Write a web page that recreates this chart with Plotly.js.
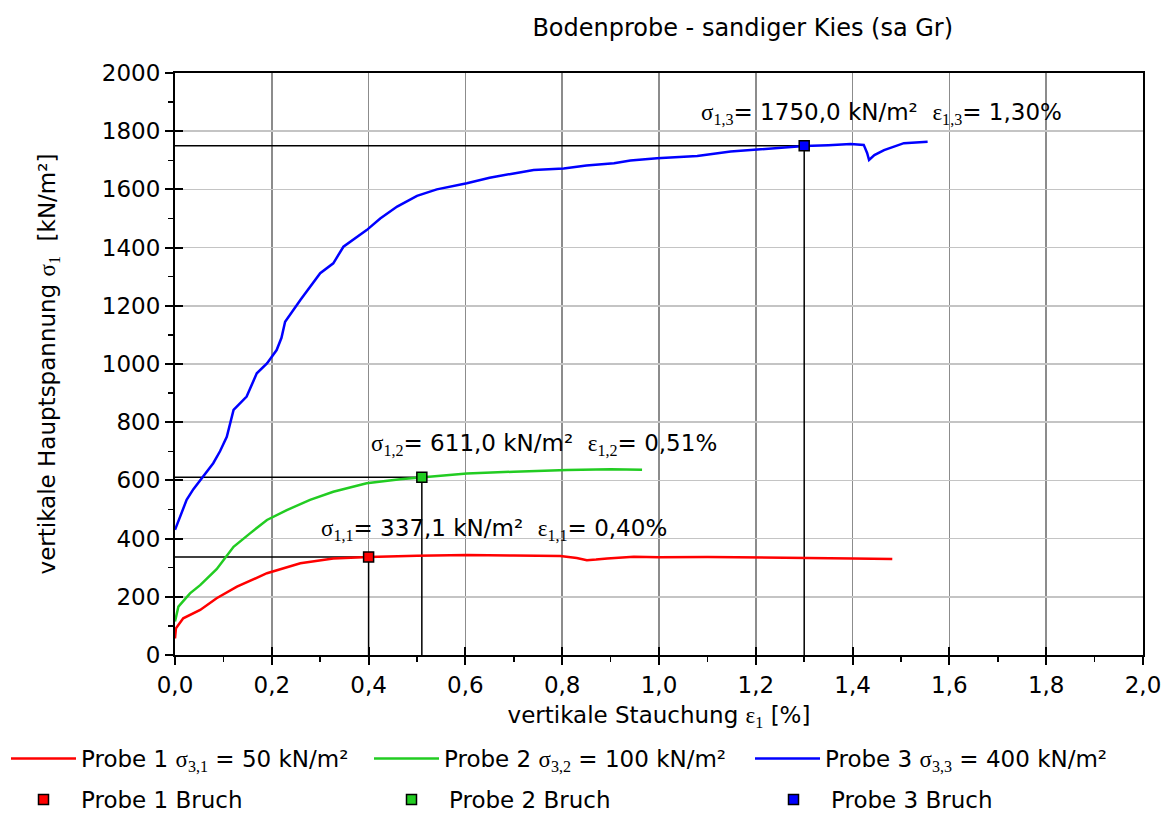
<!DOCTYPE html>
<html>
<head>
<meta charset="utf-8">
<script src="https://cdn.plot.ly/plotly-3.0.1.min.js"></script>
<style>html,body{margin:0;padding:0;background:#fff;}#chart{width:1166px;height:814px;}</style>
</head>
<body>
<div id="chart"></div>
<script>
// Probe 1 (sigma3 = 50 kN/m²)
const strain1 = [0, 0.002, 0.017, 0.052, 0.086, 0.128, 0.19, 0.259, 0.327, 0.40, 0.50, 0.603, 0.70, 0.796, 0.83, 0.851, 0.87, 0.893, 0.948, 1.0, 1.1, 1.189, 1.3, 1.4, 1.482];
const stress1 = [57, 92, 126, 155, 195, 235, 281, 315, 332, 337.1, 341, 344, 342, 340, 333, 326, 328, 332, 338, 336, 337, 336, 334, 332, 330];
// Probe 2 (sigma3 = 100 kN/m²)
const strain2 = [0, 0.007, 0.031, 0.052, 0.086, 0.121, 0.155, 0.19, 0.231, 0.279, 0.327, 0.396, 0.465, 0.512, 0.603, 0.70, 0.81, 0.90, 0.965];
const stress2 = [115, 166, 212, 240, 295, 372, 418, 464, 498, 533, 561, 590, 604, 611, 624, 630, 636, 638, 637];
// Probe 3 (sigma3 = 400 kN/m²)
const strain3 = [0, 0.012, 0.024, 0.038, 0.052, 0.065, 0.079, 0.093, 0.107, 0.121, 0.135, 0.148, 0.169, 0.19, 0.21, 0.22, 0.2275, 0.259, 0.30, 0.327, 0.348, 0.396, 0.424, 0.459, 0.50, 0.541, 0.603, 0.65, 0.70, 0.741, 0.803, 0.85, 0.907, 0.941, 0.996, 1.079, 1.148, 1.189, 1.25, 1.30, 1.35, 1.396, 1.423, 1.430, 1.434, 1.445, 1.465, 1.506, 1.555];
const stress3 = [430, 480, 533, 570, 601, 630, 659, 700, 750, 842, 865, 888, 968, 1002, 1048, 1090, 1145, 1220, 1312, 1346, 1403, 1460, 1500, 1541, 1578, 1600, 1621, 1640, 1655, 1667, 1672, 1682, 1690, 1699, 1707, 1715, 1730, 1735, 1742, 1749, 1752, 1756, 1753, 1725, 1701, 1718, 1735, 1759, 1764];
// Failure points (Bruch)
const bruchStrain = [0.40, 0.51, 1.30];
const bruchStress = [337.1, 611.0, 1750.0];
const bruchStressText = ['337,1', '611,0', '1750,0'];
const bruchStrainText = ['0,40', '0,51', '1,30'];
const probeNames = ['Probe 1', 'Probe 2', 'Probe 3'];
const sigma3 = [50, 100, 400];
const colors = ['#ff0000', '#22cc22', '#0000ff'];
const xTicks = [0, 0.2, 0.4, 0.6, 0.8, 1.0, 1.2, 1.4, 1.6, 1.8, 2.0];
const yTicks = [0, 200, 400, 600, 800, 1000, 1200, 1400, 1600, 1800, 2000];

const serif = s => '<span style="font-family:\'Liberation Serif\',serif">' + s + '</span>';

const traces = [];
for (let i = 0; i < 3; i++) {
  traces.push({
    x: [0, bruchStrain[i], bruchStrain[i]],
    y: [bruchStress[i], bruchStress[i], 0],
    mode: 'lines', line: {color: '#000', width: 1.5},
    showlegend: false, hoverinfo: 'skip'
  });
}
const strains = [strain1, strain2, strain3];
const stresses = [stress1, stress2, stress3];
const legendIds = ['legend', 'legend2', 'legend3', 'legend4', 'legend5', 'legend6'];
for (let i = 0; i < 3; i++) {
  traces.push({
    x: strains[i], y: stresses[i], mode: 'lines',
    line: {color: colors[i], width: 2.5},
    name: probeNames[i] + ' ' + serif('σ<sub>3,' + (i + 1) + '</sub>') + ' = ' + sigma3[i] + ' kN/m²',
    legend: legendIds[i]
  });
}
for (let i = 0; i < 3; i++) {
  traces.push({
    x: [bruchStrain[i]], y: [bruchStress[i]], mode: 'markers',
    marker: {symbol: 'square', size: 10, color: colors[i], line: {color: '#000', width: 1.5}},
    name: probeNames[i] + ' Bruch',
    legend: legendIds[i + 3]
  });
}

const annPos = [[0.298, 430], [0.401, 722], [1.082, 1860]];
const annotations = [];
for (let i = 0; i < 3; i++) {
  annotations.push({
    x: annPos[i][0], y: annPos[i][1], xref: 'x', yref: 'y',
    xanchor: 'left', yanchor: 'middle', showarrow: false,
    text: serif('σ<sub>1,' + (i + 1) + '</sub>') + '= ' + bruchStressText[i] + ' kN/m²&nbsp;&nbsp;' +
          serif('ε<sub>1,' + (i + 1) + '</sub>') + '= ' + bruchStrainText[i] + '%',
    font: {size: 23, color: '#000'}
  });
}

const FS = 23;
const font = {family: 'DejaVu Sans, sans-serif', size: FS, color: '#000'};

const legendX = [369, 6, 749, 6, 374, 756];      // px from left
const legendRowY = [737, 737, 737, 778, 778, 778]; // px from top
const legendOrder = [1, 0, 2, 3, 4, 5];

const layout = {
  width: 1166, height: 814,
  margin: {l: 175, r: 23, t: 73, b: 159},
  paper_bgcolor: '#fff', plot_bgcolor: '#fff',
  font: font,
  separators: ',.',
  title: {text: 'Bodenprobe - sandiger Kies (sa Gr)', x: 0.637, xref: 'container', xanchor: 'center', y: 0.966, yref: 'container', yanchor: 'middle', font: {size: 24}},
  xaxis: {
    range: [0, 2.0], tickvals: xTicks, tickformat: '.1f',
    showline: true, linecolor: '#000', linewidth: 2, mirror: true,
    ticks: 'outside', ticklen: 8, tickwidth: 2, tickcolor: '#000',
    showgrid: true, gridcolor: '#8c8c8c', gridwidth: 1.5,
    zeroline: false,
    minor: {dtick: 0.1, ticks: 'outside', ticklen: 5, tickwidth: 1.5, tickcolor: '#000', showgrid: false},
    title: {text: 'vertikale Stauchung ' + serif('ε<sub>1</sub>') + ' [%]', standoff: 10, font: {size: FS}},
    tickfont: {size: FS}
  },
  yaxis: {
    range: [0, 2000], tickvals: yTicks,
    showline: true, linecolor: '#000', linewidth: 2, mirror: true,
    ticks: 'outside', ticklen: 8, tickwidth: 2, tickcolor: '#000',
    showgrid: true, gridcolor: '#c4c4c4', gridwidth: 1.5,
    zeroline: false,
    minor: {dtick: 100, ticks: 'outside', ticklen: 5, tickwidth: 1.5, tickcolor: '#000', showgrid: false},
    title: {text: 'vertikale Hauptspannung ' + serif('σ<sub>1</sub>') + '&nbsp;&nbsp;[kN/m²]', standoff: 40, font: {size: FS}},
    tickfont: {size: FS}
  },
  xaxis2: {overlaying: 'x', range: [0, 2.0], tickvals: xTicks, ticks: 'inside', ticklen: 8, tickwidth: 2, tickcolor: '#000', showticklabels: false, showgrid: false, zeroline: false, anchor: 'y', side: 'bottom'},
  yaxis2: {overlaying: 'y', range: [0, 2000], tickvals: yTicks, ticks: 'inside', ticklen: 8, tickwidth: 2, tickcolor: '#000', showticklabels: false, showgrid: false, zeroline: false, anchor: 'x', side: 'left'},
  annotations: annotations,
  showlegend: true
};
// legends: row 1 = lines (Probe 1,2,3), row 2 = failure markers
const legendSlots = [[6, 737], [369, 737], [750, 737], [6, 778], [374, 778], [756, 778]];
for (let k = 0; k < 6; k++) {
  layout[legendIds[k]] = {
    orientation: 'h', xref: 'container', yref: 'container',
    x: legendSlots[k][0] / 1166, y: 1 - legendSlots[k][1] / 814, xanchor: 'left', yanchor: 'top',
    itemwidth: 65, font: {size: FS}, bgcolor: 'rgba(0,0,0,0)'
  };
}

traces.push({x: [null], y: [null], xaxis: 'x2', yaxis: 'y2', showlegend: false, hoverinfo: 'skip', mode: 'lines'});

Plotly.newPlot('chart', traces, layout, {staticPlot: true, displayModeBar: false});
</script>
</body>
</html>
